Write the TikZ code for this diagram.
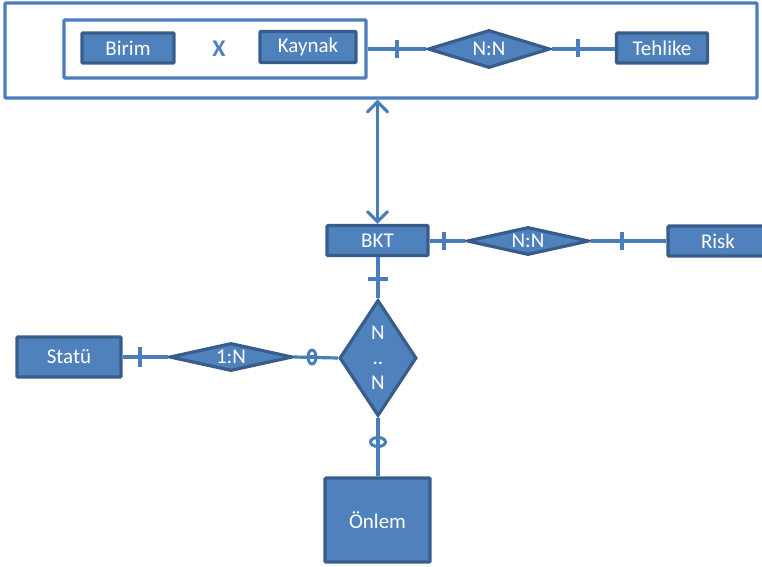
\documentclass[tikz,border=0pt]{standalone}
\usepackage{fontspec}
\setmainfont{Carlito}
\usetikzlibrary{shapes.geometric,arrows.meta}
\definecolor{boxfill}{HTML}{4F81BD}
\definecolor{boxedge}{HTML}{385D8A}
\definecolor{linec}{HTML}{4A7EBB}
\tikzset{
  ent/.style={draw=boxedge, fill=boxfill, line width=3.2pt, text=white, inner sep=0pt,
    font=\fontsize{21}{22}\selectfont, rounded corners=1pt},
  rel/.style={diamond, draw=boxedge, fill=boxfill, line width=3.2pt, inner sep=0pt},
  reltext/.style={text=white, font=\fontsize{21}{22}\selectfont, inner sep=0pt},
  frame/.style={draw=linec, line width=3.2pt, inner sep=0pt, rounded corners=1pt},
  conn/.style={draw=linec, line width=3.2pt},
  tick/.style={draw=linec, line width=3.2pt},
  zero/.style={draw=linec, line width=3pt},
}
\begin{document}
\begin{tikzpicture}[x=1pt,y=-1pt]
\useasboundingbox (0,0) rectangle (762,566);
\clip (0,0) rectangle (762,566);
% containers
\node[frame, minimum width=752pt, minimum height=95pt] (outer) at (381,50.5) {};
\node[frame, minimum width=302pt, minimum height=58pt] (inner) at (215,49) {};
% entities
\node[ent, minimum width=92pt, minimum height=30pt] (birim) at (128,48) {Birim};
\node[text=boxfill, font=\fontsize{24}{26}\selectfont\bfseries] (x) at (219,49) {X};
\node[ent, minimum width=96pt, minimum height=31pt] (kaynak) at (308,47) {Kaynak};
\node[ent, minimum width=91pt, minimum height=30pt] (tehlike) at (662,48) {Tehlike};
\node[ent, minimum width=101pt, minimum height=30pt] (bkt) at (377.5,240.5) {BKT};
\node[ent, minimum width=100pt, minimum height=30pt] (risk) at (718,241) {Risk};
\node[ent, minimum width=104pt, minimum height=40pt] (statu) at (69,357) {Statü};
\node[ent, minimum width=105pt, minimum height=84pt] (onlem) at (377.5,520) {Önlem};
% relationships
\node[rel, minimum width=122pt, minimum height=38pt] (nn1) at (489,49) {};
\node[reltext] (nn1t) at (nn1.center) {N:N};
\node[rel, minimum width=122pt, minimum height=28pt] (nn2) at (528,241) {};
\node[reltext] (nn2t) at (nn2.center) {N:N};
\node[rel, minimum width=123pt, minimum height=28pt] (one) at (231,357) {};
\node[reltext] (onet) at (one.center) {1:N};
\node[rel, minimum width=77pt, minimum height=116pt] (nn3) at (378,358) {};
\node[reltext, align=center, font=\fontsize{21}{25}\selectfont] (nn3t) at (nn3.center) {N\\..\\N};
% connectors
\draw[conn] (inner.east |- nn1.west) -- (nn1.west);
\draw[conn] (nn1.east) -- (tehlike.west |- nn1.east);
\draw[conn] (bkt.east |- nn2.west) -- (nn2.west);
\draw[conn] (nn2.east) -- (risk.west |- nn2.east);
\draw[conn] (bkt.south -| nn3.north) -- (nn3.north);
\draw[conn] (statu.east) -- (one.west);
\draw[conn] (one.east) -- (nn3.west);
\draw[conn] (nn3.south) -- (onlem.north -| nn3.south);
\coordinate (atop) at (bkt.north |- outer.south);
\draw[conn, {Straight Barb[length=10pt,width=20pt,line cap=round]}-{Straight Barb[length=10pt,width=20pt,line cap=round]}] (atop) -- (bkt.north);
% cardinality marks
\coordinate (t1) at (397,49);
\coordinate (t2) at (578,48);
\coordinate (t3) at (444,241);
\coordinate (t4) at (622,241);
\coordinate (t5) at (378,279);
\coordinate (t6) at (140,357);
\coordinate (z1) at (312,357);
\coordinate (z2) at (378,442);
\draw[tick] (t1) ++(0,-9) -- ++(0,18);
\draw[tick] (t2) ++(0,-9) -- ++(0,18);
\draw[tick] (t3) ++(0,-9) -- ++(0,18);
\draw[tick] (t4) ++(0,-9) -- ++(0,18);
\draw[tick] (t5) ++(-10,0) -- ++(20,0);
\draw[tick] (t6) ++(0,-10) -- ++(0,20);
\draw[zero, fill=white] (z1) ellipse [x radius=4pt, y radius=7pt];
\draw[zero, fill=white] (z2) ellipse [x radius=7.5pt, y radius=4.5pt];
\draw[conn] (z1) ++(-4,0) -- ++(8,0);
\draw[conn] (z2) ++(0,-4.5) -- ++(0,9);
\end{tikzpicture}
\end{document}
